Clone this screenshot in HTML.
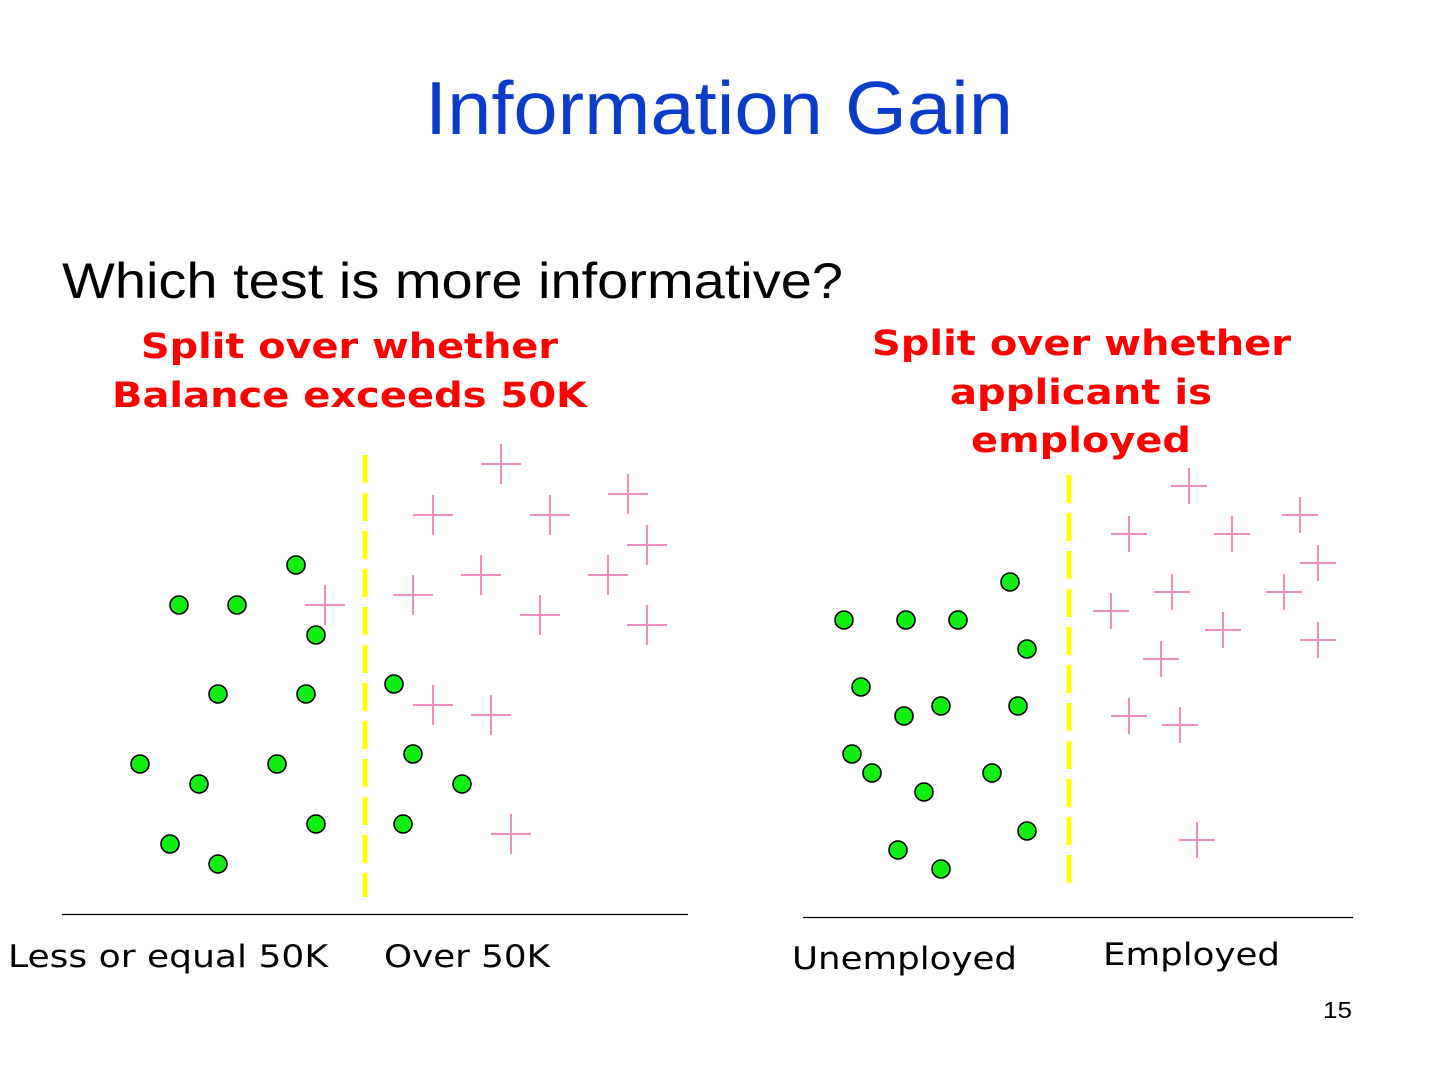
<!DOCTYPE html>
<html><head><meta charset="utf-8"><style>
html,body{margin:0;padding:0;background:#fff;}
svg{display:block;}
</style></head><body>
<svg width="1440" height="1080" xmlns="http://www.w3.org/2000/svg">
<defs>
<g id="cl"><path d="M-20 0H20M0 -20V20" stroke="#ec8fc0" stroke-width="2" fill="none"/></g>
<g id="cr"><path d="M-18 0H18M0 -18V18" stroke="#ec8fc0" stroke-width="2" fill="none"/></g>
<circle id="d" r="9" fill="#11ee11" stroke="#000" stroke-width="1.6"/>
</defs>
<text x="425" y="134" textLength="588" lengthAdjust="spacingAndGlyphs" font-family="Liberation Sans, sans-serif" font-size="75" fill="#0a3ccc">Information Gain</text>
<text x="62" y="298" textLength="781" lengthAdjust="spacingAndGlyphs" font-family="Liberation Sans, sans-serif" font-size="50" fill="#000">Which test is more informative?</text>
<g font-family="DejaVu Sans, sans-serif" font-weight="bold" font-size="35" fill="#ff0000">
<text x="141" y="358" textLength="417" lengthAdjust="spacingAndGlyphs">Split over whether</text>
<text x="112" y="407" textLength="475" lengthAdjust="spacingAndGlyphs">Balance exceeds 50K</text>
<text x="872" y="355" textLength="419" lengthAdjust="spacingAndGlyphs">Split over whether</text>
<text x="950" y="404" textLength="262" lengthAdjust="spacingAndGlyphs">applicant is</text>
<text x="971" y="452" textLength="220" lengthAdjust="spacingAndGlyphs">employed</text>
</g>
<line x1="365" y1="455" x2="365" y2="897" stroke="#ffff00" stroke-width="5" stroke-dasharray="28,10"/>
<line x1="1069" y1="475" x2="1069" y2="887" stroke="#ffff00" stroke-width="5" stroke-dasharray="28,10"/>
<line x1="62" y1="914.5" x2="688" y2="914.5" stroke="#000" stroke-width="1.3"/>
<line x1="803" y1="917.5" x2="1353" y2="917.5" stroke="#000" stroke-width="1.3"/>
<g>
<use href="#cl" x="501" y="464"/><use href="#cl" x="433" y="515"/><use href="#cl" x="550" y="515"/><use href="#cl" x="628" y="494"/><use href="#cl" x="647" y="545"/><use href="#cl" x="481" y="575"/><use href="#cl" x="608" y="575"/><use href="#cl" x="325" y="605"/><use href="#cl" x="413" y="595"/><use href="#cl" x="540" y="615"/><use href="#cl" x="647" y="625"/><use href="#cl" x="433" y="705"/><use href="#cl" x="491" y="715"/><use href="#cl" x="511" y="834"/>
<use href="#cr" x="1189" y="486"/><use href="#cr" x="1129" y="534"/><use href="#cr" x="1232" y="534"/><use href="#cr" x="1300" y="515"/><use href="#cr" x="1318" y="563"/><use href="#cr" x="1172" y="592"/><use href="#cr" x="1284" y="592"/><use href="#cr" x="1111" y="611"/><use href="#cr" x="1223" y="630"/><use href="#cr" x="1318" y="640"/><use href="#cr" x="1161" y="659"/><use href="#cr" x="1129" y="716"/><use href="#cr" x="1180" y="725"/><use href="#cr" x="1197" y="840"/>
</g>
<g>
<use href="#d" x="296" y="565"/><use href="#d" x="179" y="605"/><use href="#d" x="237" y="605"/><use href="#d" x="316" y="635"/><use href="#d" x="218" y="694"/><use href="#d" x="306" y="694"/><use href="#d" x="394" y="684"/><use href="#d" x="140" y="764"/><use href="#d" x="277" y="764"/><use href="#d" x="199" y="784"/><use href="#d" x="413" y="754"/><use href="#d" x="462" y="784"/><use href="#d" x="316" y="824"/><use href="#d" x="403" y="824"/><use href="#d" x="170" y="844"/><use href="#d" x="218" y="864"/>
<use href="#d" x="1010" y="582"/><use href="#d" x="844" y="620"/><use href="#d" x="906" y="620"/><use href="#d" x="958" y="620"/><use href="#d" x="1027" y="649"/><use href="#d" x="861" y="687"/><use href="#d" x="941" y="706"/><use href="#d" x="1018" y="706"/><use href="#d" x="904" y="716"/><use href="#d" x="852" y="754"/><use href="#d" x="872" y="773"/><use href="#d" x="992" y="773"/><use href="#d" x="924" y="792"/><use href="#d" x="1027" y="831"/><use href="#d" x="898" y="850"/><use href="#d" x="941" y="869"/>
</g>
<g font-family="DejaVu Sans, sans-serif" font-size="31" fill="#000">
<text x="8" y="967" textLength="320" lengthAdjust="spacingAndGlyphs">Less or equal 50K</text>
<text x="384" y="967" textLength="166" lengthAdjust="spacingAndGlyphs">Over 50K</text>
<text x="792" y="969" textLength="225" lengthAdjust="spacingAndGlyphs">Unemployed</text>
<text x="1103" y="965" textLength="177" lengthAdjust="spacingAndGlyphs">Employed</text>
</g>
<text x="1323" y="1018" textLength="29" lengthAdjust="spacingAndGlyphs" font-family="Liberation Sans, sans-serif" font-size="23" fill="#000">15</text>
</svg>
</body></html>
